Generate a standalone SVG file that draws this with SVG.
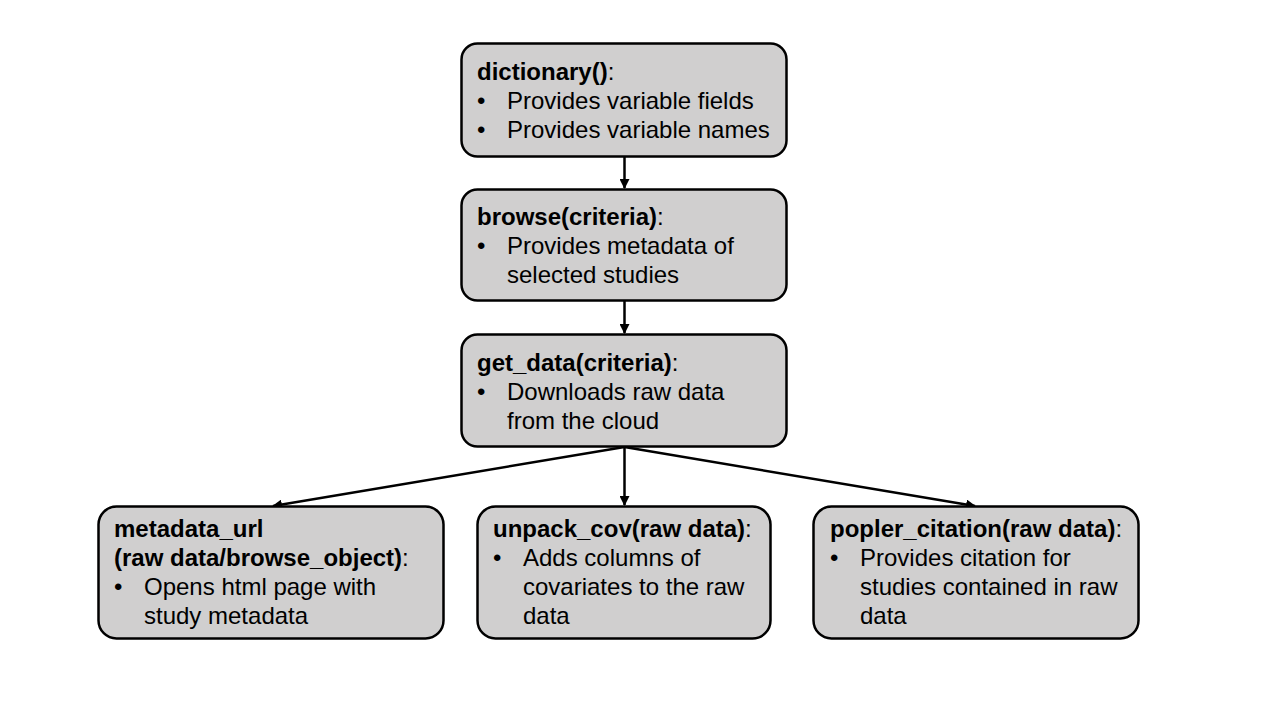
<svg xmlns="http://www.w3.org/2000/svg" width="1280" height="720" viewBox="0 0 1280 720">
<defs>
<style>
.box{fill:#d0cfcf;stroke:#000;stroke-width:2.5}
text{font-family:"Liberation Sans",Arial,sans-serif;font-size:24px;fill:#000}
.b{font-weight:bold}
.conn{stroke:#000;stroke-width:2.5;fill:none;marker-end:url(#ah)}
</style>
<marker id="ah" viewBox="0 0 10 10" refX="9" refY="5" markerWidth="4" markerHeight="4" orient="auto" markerUnits="strokeWidth">
<path d="M0,0 L10,5 L0,10 z" fill="#000"/>
</marker>
</defs>
<rect width="1280" height="720" fill="#fff"/>
<g id="connectors">
<line class="conn" x1="624.5" y1="157" x2="624.5" y2="188"/>
<line class="conn" x1="624.5" y1="301" x2="624.5" y2="333"/>
<line class="conn" x1="624.5" y1="447" x2="624.5" y2="505"/>
<line class="conn" x1="624.5" y1="447" x2="273" y2="506"/>
<line class="conn" x1="624.5" y1="447" x2="975" y2="506"/>
</g>
<g id="dictionary">
<rect class="box" x="461.5" y="43.5" width="325" height="113" rx="16"/>
<text x="477" y="80"><tspan class="b">dictionary()</tspan>:</text>
<text x="477" y="109">•</text><text x="507" y="109">Provides variable fields</text>
<text x="477" y="138">•</text><text x="507" y="138">Provides variable names</text>
</g>
<g id="browse">
<rect class="box" x="461.5" y="189.5" width="325" height="111" rx="16"/>
<text x="477" y="225"><tspan class="b">browse(criteria)</tspan>:</text>
<text x="477" y="254">•</text><text x="507" y="254">Provides metadata of</text>
<text x="507" y="283">selected studies</text>
</g>
<g id="get_data">
<rect class="box" x="461.5" y="334.5" width="325" height="112" rx="16"/>
<text x="477" y="371"><tspan class="b">get_data(criteria)</tspan>:</text>
<text x="477" y="400">•</text><text x="507" y="400">Downloads raw data</text>
<text x="507" y="429">from the cloud</text>
</g>
<g id="metadata_url">
<rect class="box" x="98.5" y="506.5" width="345" height="132" rx="18"/>
<text x="114" y="537" class="b">metadata_url</text>
<text x="114" y="566"><tspan class="b">(raw data/browse_object)</tspan>:</text>
<text x="114" y="595">•</text><text x="144" y="595">Opens html page with</text>
<text x="144" y="624">study metadata</text>
</g>
<g id="unpack_cov">
<rect class="box" x="477.5" y="506.5" width="293" height="132" rx="18"/>
<text x="493" y="537"><tspan class="b">unpack_cov(raw data)</tspan>:</text>
<text x="493" y="566">•</text><text x="523" y="566">Adds columns of</text>
<text x="523" y="595">covariates  to the raw</text>
<text x="523" y="624">data</text>
</g>
<g id="popler_citation">
<rect class="box" x="813.5" y="506.5" width="325" height="132" rx="18"/>
<text x="830" y="537"><tspan class="b">popler_citation(raw data)</tspan>:</text>
<text x="830" y="566">•</text><text x="860" y="566">Provides citation for</text>
<text x="860" y="595">studies contained in raw</text>
<text x="860" y="624">data</text>
</g>
</svg>
